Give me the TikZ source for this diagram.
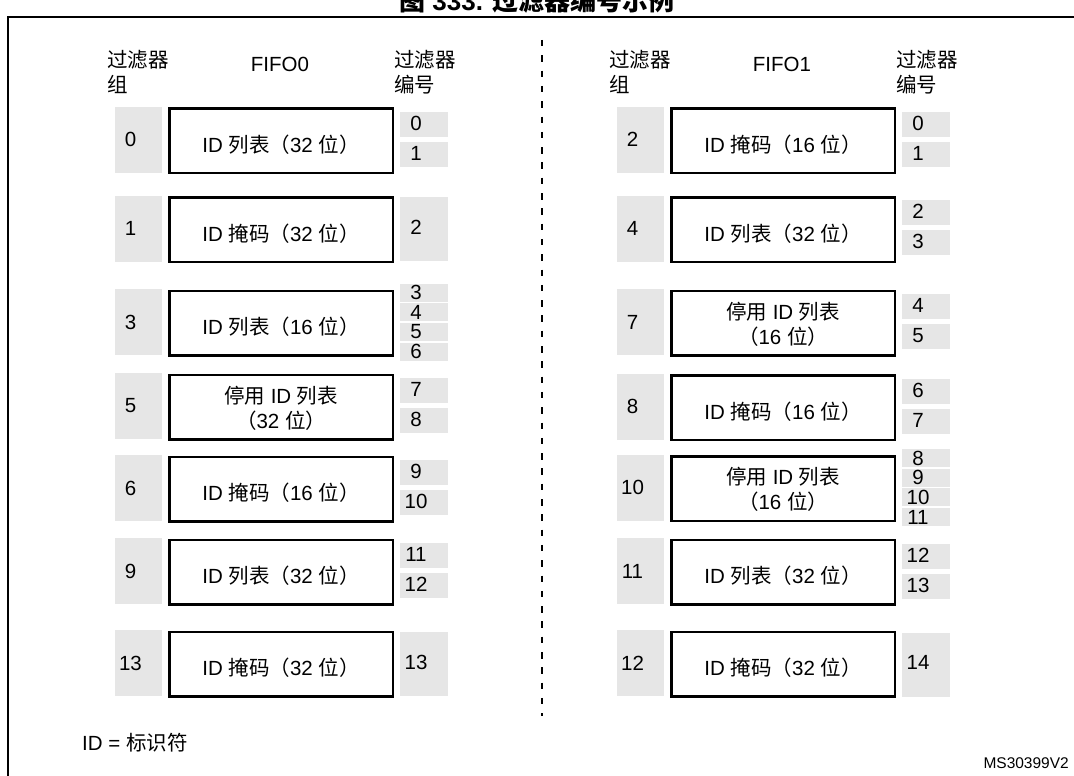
\documentclass[tikz,border=0pt]{standalone}
\usepackage{fontspec}
\setmainfont{Liberation Sans}
\newfontfamily\cjk{Noto Sans CJK SC}
\newcommand\zh[1]{{\cjk #1}}
\definecolor{grayfill}{HTML}{E6E6E6}
\tikzset{
  txt/.style={font=\fontsize{20.5}{25}\selectfont, inner sep=0pt},
  grp/.style={fill=grayfill, minimum width=47pt, minimum height=66pt, inner sep=0pt},
  lab/.style={txt, xshift=-8pt},
  mainbox/.style={draw, line width=2.5pt, minimum width=223.5pt, minimum height=64.5pt, inner sep=0pt},
  maintxt/.style={txt, align=center},
  nb/.style={fill=grayfill, minimum width=48pt, inner sep=0pt},
  divider/.style={line width=1.8pt, dash pattern=on 6.5pt off 8.8pt},
  frame/.style={line width=2.3pt},
}
% [#1 text shift], #2 name, #3 x offset, #4 centre y, #5 group, #6 text
\newcommand\frow[6][-4pt]{%
  \node[grp, label={[lab]center:#5}] (#2g) at (138.5+#3,#4) {};
  \node[mainbox, label={[maintxt, yshift=#1]center:#6}] (#2m) at (281+#3,#4+1) {};
}
\newcommand\numone[4]{%
  \node[nb, minimum height=64pt, label={[lab, yshift=2pt]center:#4}] (#1n) at (424+#2,#3) {};
}
\newcommand\numtwo[5]{%
  \node[nb, minimum height=25pt, label={[lab, yshift=1pt]center:#4}] (#1na) at (424+#2,#3-15) {};
  \node[nb, minimum height=25pt, label={[lab, yshift=1pt]center:#5}] (#1nb) at (424+#2,#3+15) {};
}
\newcommand\numfour[7]{%
  \node[nb, minimum height=18pt, label={[lab]center:#4}] (#1na) at (424+#2,#3-29.5) {};
  \node[nb, minimum height=18pt, label={[lab]center:#5}] (#1nb) at (424+#2,#3-9.8) {};
  \node[nb, minimum height=18pt, label={[lab]center:#6}] (#1nc) at (424+#2,#3+9.8) {};
  \node[nb, minimum height=18pt, label={[lab]center:#7}] (#1nd) at (424+#2,#3+29.5) {};
}
\begin{document}
\begin{tikzpicture}[x=1pt,y=-1pt]
\useasboundingbox (0,0) rectangle (1074,776);
\clip (0,0) rectangle (1074,776);

% title (cut off by the top edge) and frame
\node[font=\fontsize{26}{30}\selectfont\bfseries, inner sep=0pt, anchor=base] (title) at (537,11) {\zh{图} 333. \zh{过滤器编号示例}};
\coordinate (fbl) at (8,800);
\coordinate (ftl) at (8,17);
\coordinate (ftr) at (1100,17);
\draw[frame] (fbl) -- (ftl) -- (ftr);

% divider
\coordinate (dtop) at (542,40);
\coordinate (dbot) at (542,716);
\draw[divider] (dtop) -- (dbot);

% headers
\node[txt, anchor=north west, align=left] (h1) at (107,50) {\zh{过滤器}\\\zh{组}};
\node[txt] (h2) at (280,64) {FIFO0};
\node[txt, anchor=north west, align=left] (h3) at (394,50) {\zh{过滤器}\\\zh{编号}};
\node[txt, anchor=north west, align=left] (h4) at (609,50) {\zh{过滤器}\\\zh{组}};
\node[txt] (h5) at (782,64) {FIFO1};
\node[txt, anchor=north west, align=left] (h6) at (896,50) {\zh{过滤器}\\\zh{编号}};

% left column (FIFO0)
\frow{La}{0}{139.5}{0}{ID \zh{列表（}32 \zh{位）}}
\numtwo{La}{0}{139.5}{0}{1}
\frow{Lb}{0}{228.5}{1}{ID \zh{掩码（}32 \zh{位）}}
\numone{Lb}{0}{229}{2}
\frow{Lc}{0}{322}{3}{ID \zh{列表（}16 \zh{位）}}
\numfour{Lc}{0}{322}{3}{4}{5}{6}
\frow[-1pt]{Ld}{0}{406}{5}{\zh{停用} ID \zh{列表}\\\zh{（}32 \zh{位）}}
\numtwo{Ld}{0}{405.5}{7}{8}
\frow{Le}{0}{488}{6}{ID \zh{掩码（}16 \zh{位）}}
\numtwo{Le}{0}{487}{9}{10}
\frow{Lf}{0}{571}{9}{ID \zh{列表（}32 \zh{位）}}
\numtwo{Lf}{0}{570.5}{11}{12}
\frow{Lg}{0}{663}{13}{ID \zh{掩码（}32 \zh{位）}}
\numone{Lg}{0}{664}{13}

% right column (FIFO1)
\frow{Ra}{502}{139.5}{2}{ID \zh{掩码（}16 \zh{位）}}
\numtwo{Ra}{502}{139.5}{0}{1}
\frow{Rb}{502}{228.5}{4}{ID \zh{列表（}32 \zh{位）}}
\numtwo{Rb}{502}{227.5}{2}{3}
\frow[-1pt]{Rc}{502}{322}{7}{\zh{停用} ID \zh{列表}\\\zh{（}16 \zh{位）}}
\numtwo{Rc}{502}{321.5}{4}{5}
\frow{Rd}{502}{406.5}{8}{ID \zh{掩码（}16 \zh{位）}}
\numtwo{Rd}{502}{406}{6}{7}
\frow[-1pt]{Re}{502}{487.5}{10}{\zh{停用} ID \zh{列表}\\\zh{（}16 \zh{位）}}
\numfour{Re}{502}{487.5}{8}{9}{10}{11}
\frow{Rf}{502}{571}{11}{ID \zh{列表（}32 \zh{位）}}
\numtwo{Rf}{502}{571}{12}{13}
\frow{Rg}{502}{663}{12}{ID \zh{掩码（}32 \zh{位）}}
\numone{Rg}{502}{664.5}{14}

% footnotes
\node[txt, anchor=west] (idnote) at (82,743) {ID = \zh{标识符}};
\node[font=\fontsize{15.5}{18}\selectfont, inner sep=0pt, anchor=east] (code) at (1069,763) {MS30399V2};
\end{tikzpicture}
\end{document}
